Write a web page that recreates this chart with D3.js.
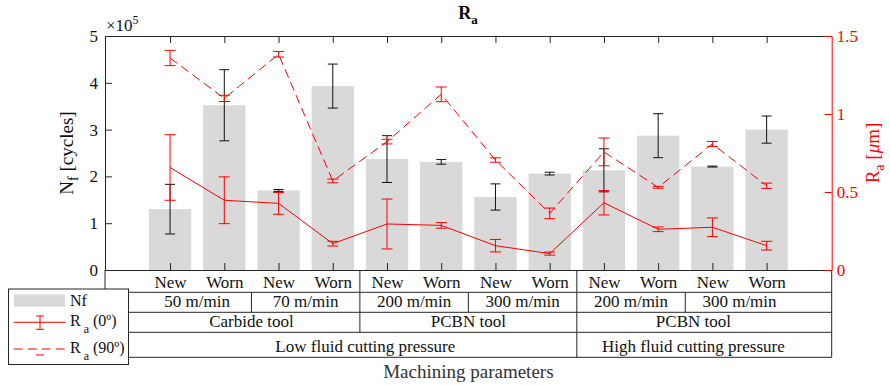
<!DOCTYPE html>
<html>
<head>
<meta charset="utf-8">
<script src="https://cdn.jsdelivr.net/npm/d3@7"></script>
<style>
  body { margin: 0; background: #fff; }
  text { font-family: "Liberation Serif", "Times New Roman", serif; }
</style>
</head>
<body>
<script>
// Data
var categories = ["New", "Worn", "New", "Worn", "New", "Worn", "New", "Worn", "New", "Worn", "New", "Worn"];
var nfMean = [130000, 352000, 170000, 393000, 237000, 231000, 156000, 206000, 213000, 287000, 221000, 300000];
var nfErr = [53000, 76000, 2000, 47000, 50000, 5000, 28000, 3000, 46000, 47000, 1000, 29000];
var ra0 = [0.657, 0.447, 0.427, 0.169, 0.295, 0.286, 0.156, 0.105, 0.431, 0.261, 0.274, 0.156];
var ra0Err = [0.21, 0.15, 0.07, 0.015, 0.16, 0.018, 0.04, 0.01, 0.078, 0.015, 0.06, 0.028];
var ra90 = [1.359, 1.10, 1.383, 0.571, 0.823, 1.126, 0.705, 0.363, 0.757, 0.530, 0.808, 0.540];
var ra90Err = [0.049, 0.02, 0.018, 0.012, 0.015, 0.047, 0.014, 0.034, 0.089, 0.006, 0.016, 0.017];
var speedGroups = [
  {label: "50 m/min", from: 1, to: 2}, {label: "70 m/min", from: 3, to: 4},
  {label: "200 m/min", from: 5, to: 6}, {label: "300 m/min", from: 7, to: 8},
  {label: "200 m/min", from: 9, to: 10}, {label: "300 m/min", from: 11, to: 12}
];
var toolGroups = [
  {label: "Carbide tool", from: 1, to: 4, at: 2.5},
  {label: "PCBN tool", from: 5, to: 8, at: 6.5},
  {label: "PCBN tool", from: 9, to: 12, at: 10.65}
];
var pressureGroups = [
  {label: "Low fluid cutting pressure", from: 1, to: 8, at: 4.6},
  {label: "High fluid cutting pressure", from: 9, to: 12, at: 10.65}
];
var nfTicks = [0, 100000, 200000, 300000, 400000, 500000];
var raTicks = [0, 0.5, 1, 1.5];

var W = 890, H = 385;
var pLeft = 105, pRight = 831.7, pTop = 36, pBottom = 270;
var axisColor = "#262626", red = "#ff0000";

var svg = d3.select("body").append("svg")
  .attr("width", W).attr("height", H);

// scales
var x = d3.scaleLinear().domain([-0.2, 13.2]).range([pLeft, pRight]);
var y = d3.scaleLinear().domain([0, 500000]).range([pBottom, pTop]);
var yR = d3.scaleLinear().domain([0, 1.5]).range([pBottom, pTop]);
var unit = x(2) - x(1);
var idx = d3.range(1, 13);

// bars
svg.append("g").selectAll("rect")
  .data(nfMean)
  .enter().append("rect")
  .attr("x", function(d, i) { return x(i + 1) - unit * 0.39; })
  .attr("width", unit * 0.78)
  .attr("y", function(d) { return y(d); })
  .attr("height", function(d) { return pBottom - y(d); })
  .attr("fill", "#d9d9d9");

// error bar helper
function errorBars(g, means, errs, scale, color, cap) {
  means.forEach(function(m, i) {
    var cx = x(i + 1), y1 = scale(m + errs[i]), y2 = scale(m - errs[i]);
    g.append("line").attr("x1", cx).attr("x2", cx).attr("y1", y1).attr("y2", y2)
      .attr("stroke", color).attr("stroke-width", 1);
    [y1, y2].forEach(function(yy) {
      g.append("line").attr("x1", cx - cap).attr("x2", cx + cap).attr("y1", yy).attr("y2", yy)
        .attr("stroke", color).attr("stroke-width", 1);
    });
  });
}

errorBars(svg.append("g"), nfMean, nfErr, y, "#111", 5);

// Ra lines
var raLine = d3.line()
  .x(function(d, i) { return x(i + 1); })
  .y(function(d) { return yR(d); });

svg.append("path").datum(ra0)
  .attr("d", raLine).attr("fill", "none")
  .attr("stroke", red).attr("stroke-width", 1);
svg.append("path").datum(ra90)
  .attr("d", raLine).attr("fill", "none")
  .attr("stroke", red).attr("stroke-width", 1)
  .attr("stroke-dasharray", "9,5");

errorBars(svg.append("g"), ra0, ra0Err, yR, red, 5.5);
errorBars(svg.append("g"), ra90, ra90Err, yR, red, 5.5);

// axes
var leftAxis = svg.append("g")
  .attr("transform", "translate(" + pLeft + ",0)")
  .call(d3.axisLeft(y).tickValues(nfTicks).tickSize(-7).tickSizeOuter(0).tickPadding(7)
    .tickFormat(function(d) { return d / 100000; }));

var topAxis = svg.append("g")
  .attr("transform", "translate(0," + pTop + ")")
  .call(d3.axisTop(x).tickValues(idx).tickSize(-7).tickSizeOuter(0).tickFormat(""));

var bottomAxis = svg.append("g")
  .attr("transform", "translate(0," + pBottom + ")")
  .call(d3.axisBottom(x).tickValues(idx).tickSize(-7).tickSizeOuter(0).tickPadding(6)
    .tickFormat(function(d) { return categories[d - 1]; }));

var rightAxis = svg.append("g")
  .attr("transform", "translate(" + pRight + ",0)")
  .call(d3.axisRight(yR).tickValues(raTicks).tickSize(-7).tickSizeOuter(0).tickPadding(5)
    .tickFormat(d3.format("~g")));

[leftAxis, topAxis, bottomAxis].forEach(function(a) {
  a.selectAll("path, line").attr("stroke", axisColor);
  a.selectAll("text").attr("fill", "#111").style("font-size", "17px")
    .style("font-family", "'Liberation Serif', serif");
});
rightAxis.selectAll("path, line").attr("stroke", red);
rightAxis.selectAll("text").attr("fill", red).style("font-size", "17px")
  .style("font-family", "'Liberation Serif', serif");

// table below the axis
var rowBottoms = [292.3, 312.3, 332.3, 357.3];
var table = svg.append("g");
function hline(yy) {
  table.append("line").attr("x1", pLeft).attr("x2", pRight).attr("y1", yy).attr("y2", yy)
    .attr("stroke", axisColor).attr("stroke-width", 1);
}
function vline(xx, y1, y2) {
  table.append("line").attr("x1", xx).attr("x2", xx).attr("y1", y1).attr("y2", y2)
    .attr("stroke", axisColor).attr("stroke-width", 1);
}
rowBottoms.forEach(hline);
vline(pLeft, pBottom, rowBottoms[3]);
vline(pRight, pBottom, rowBottoms[3]);

var rows = [
  {groups: toolGroups, y0: pBottom, y1: rowBottoms[0], labels: false},
  {groups: speedGroups, y0: rowBottoms[0], y1: rowBottoms[1], labels: true},
  {groups: toolGroups, y0: rowBottoms[1], y1: rowBottoms[2], labels: true},
  {groups: pressureGroups, y0: rowBottoms[2], y1: rowBottoms[3], labels: true}
];

rows.forEach(function(r) {
  r.groups.forEach(function(g, gi) {
    if (gi > 0) vline(x(g.from - 0.5), r.y0, r.y1);
    if (!r.labels) return;
    var cx = g.at !== undefined ? x(g.at) : x((g.from + g.to) / 2);
    table.append("text")
      .attr("x", cx).attr("y", r.y1 - 5.5)
      .attr("text-anchor", "middle")
      .style("font-size", "17px").attr("fill", "#111")
      .text(g.label);
  });
});

// axis labels
svg.append("text")
  .attr("x", (pLeft + pRight) / 2).attr("y", 378)
  .attr("text-anchor", "middle").style("font-size", "19px").attr("fill", "#333")
  .text("Machining parameters");

var yl = svg.append("text")
  .attr("transform", "translate(73," + ((pTop + pBottom) / 2) + ") rotate(-90)")
  .attr("text-anchor", "middle").style("font-size", "19px").attr("fill", "#111");
yl.append("tspan").text("N");
yl.append("tspan").attr("dy", 5).style("font-size", "14px").text("f");
yl.append("tspan").attr("dy", -5).text(" [cycles]");

var yr = svg.append("text")
  .attr("transform", "translate(879," + ((pTop + pBottom) / 2) + ") rotate(-90)")
  .attr("text-anchor", "middle").style("font-size", "19px").attr("fill", red);
yr.append("tspan").text("R");
yr.append("tspan").attr("dy", 5).style("font-size", "14px").text("a");
yr.append("tspan").attr("dy", -5).text(" [");
yr.append("tspan").style("font-style", "italic").text("\u03bc");
yr.append("tspan").text("m]");

// exponent label
var ex = svg.append("text").attr("x", 106).attr("y", 31)
  .style("font-size", "17px").attr("fill", "#111");
ex.append("tspan").text("\u00d710");
ex.append("tspan").attr("dy", -7).style("font-size", "12px").text("5");

// title
var title = svg.append("text").attr("x", 468).attr("y", 19)
  .attr("text-anchor", "middle").style("font-size", "18px").style("font-weight", "bold").attr("fill", "#000");
title.append("tspan").text("R");
title.append("tspan").attr("dy", 5).style("font-size", "13px").text("a");

// legend
var lg = svg.append("g");
lg.append("rect").attr("x", 8.5).attr("y", 289).attr("width", 120).attr("height", 75.5)
  .attr("fill", "#fff").attr("stroke", axisColor).attr("stroke-width", 1);
lg.append("rect").attr("x", 14).attr("y", 294.3).attr("width", 51).attr("height", 12.4)
  .attr("fill", "#d9d9d9");
lg.append("line").attr("x1", 13.7).attr("x2", 65.7).attr("y1", 322.3).attr("y2", 322.3)
  .attr("stroke", red);
lg.append("line").attr("x1", 40).attr("x2", 40).attr("y1", 316).attr("y2", 329.3).attr("stroke", red);
[316, 329.3].forEach(function(yy) {
  lg.append("line").attr("x1", 36).attr("x2", 44).attr("y1", yy).attr("y2", yy).attr("stroke", red);
});
lg.append("line").attr("x1", 13.7).attr("x2", 65.7).attr("y1", 349).attr("y2", 349)
  .attr("stroke", red).attr("stroke-dasharray", "9,5");
lg.append("line").attr("x1", 36).attr("x2", 44).attr("y1", 355).attr("y2", 355).attr("stroke", red);

var legendItems = [
  {name: "Nf", sub: null, tail: "", y: 306},
  {name: "R", sub: "a", tail: " (0\u00ba)", y: 326},
  {name: "R", sub: "a", tail: " (90\u00ba)", y: 352.5}
];
legendItems.forEach(function(d) {
  var t = lg.append("text").attr("x", 70).attr("y", d.y)
    .style("font-size", "16px").attr("fill", "#111");
  t.append("tspan").text(d.name);
  if (d.sub) {
    t.append("tspan").attr("dy", 7).style("font-size", "12px").text(" " + d.sub);
    t.append("tspan").attr("dy", -7).text(d.tail);
  }
});
</script>
</body>
</html>
